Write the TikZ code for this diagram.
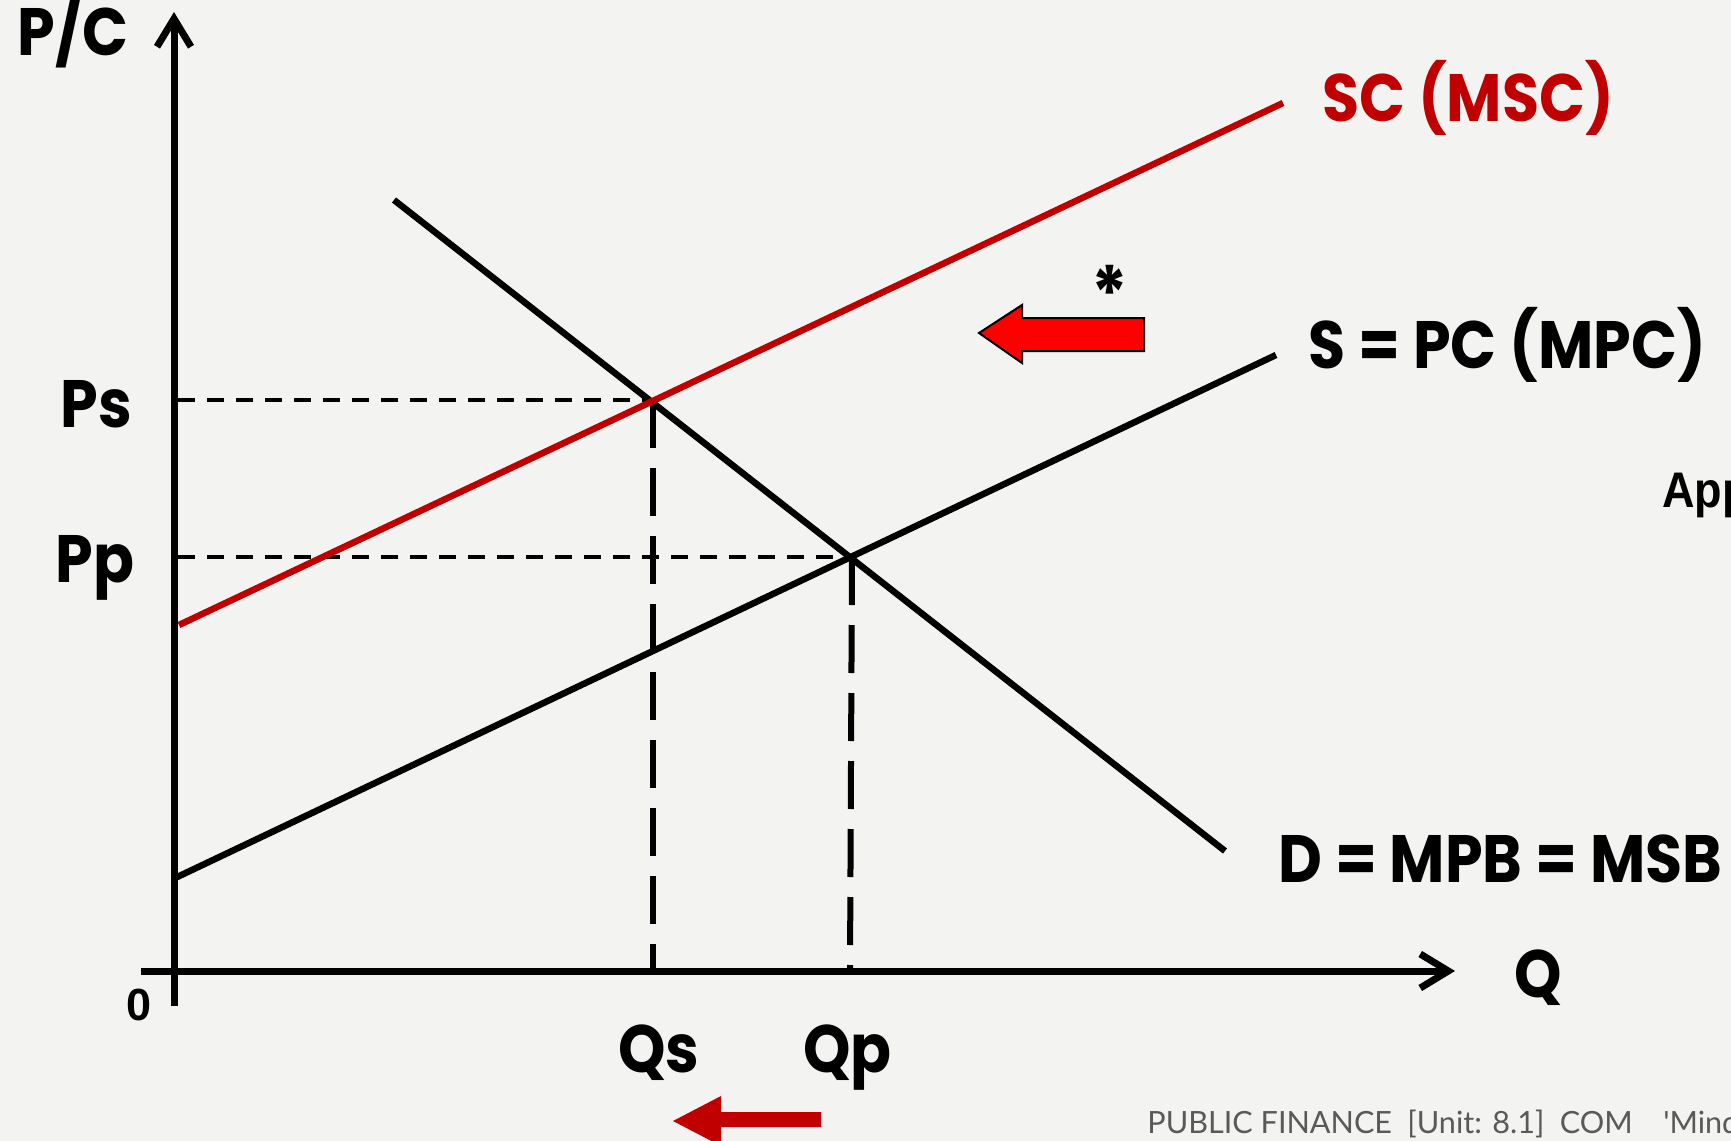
\documentclass[tikz,border=0pt]{standalone}
\usepackage{fontspec}
\usetikzlibrary{arrows.meta}
\newfontfamily\gfont{Poppins Bold}[FakeStretch=0.9]
\newfontfamily\afont{Liberation Sans}
\newfontfamily\anfont{Liberation Sans}[FakeStretch=0.9]
\newfontfamily\ffont{Lato}
\definecolor{bg}{HTML}{F3F3F1}
\definecolor{dred}{HTML}{C00000}
\definecolor{ftgray}{HTML}{595959}
\begin{document}
\begin{tikzpicture}[x=0.5pt,y=-0.5pt,
  curve/.style={line width=3.25pt},
  axisline/.style={line width=3.5pt,-{Straight Barb[length=14pt,width=17pt]}},
  thindash/.style={line width=2pt,dash pattern=on 8.5pt off 6pt},
  thickdash/.style={line width=3pt,dash pattern=on 24pt off 10pt},
  lbl/.style={font=\gfont\fontsize{33.5}{40}\selectfont,inner sep=0pt,anchor=base west}]
\fill[bg] (0,0) rectangle (1731,1141);
\useasboundingbox (0,0) rectangle (1731,1141);
% coordinates
\coordinate (yb) at (174,1006);
\coordinate (yt) at (174,12);
\coordinate (xl) at (141,971);
\coordinate (xr) at (1455,971);
\coordinate (Es) at (653,400);
\coordinate (Ep) at (852,557);
\coordinate (psL) at (178,400);
\coordinate (ppL) at (178,557);
\coordinate (qsB) at (653,971);
\coordinate (qpB) at (850,971);
\coordinate (sc1) at (179,625);
\coordinate (sc2) at (1283,103);
\coordinate (s1) at (173,879);
\coordinate (s2) at (1276,355);
\coordinate (d1) at (394,200);
\coordinate (d2) at (1225,851);
% dashed guides
\draw[thindash] (psL) -- (Es);
\draw[thindash] (ppL) -- (Ep);
\draw[thickdash] (Es) -- (qsB);
\draw[thickdash] (Ep) -- (qpB);
% axes
\draw[axisline] (yb) -- (yt);
\draw[axisline] (xl) -- (xr);
% curves
\draw[curve] (s1) -- (s2);
\draw[curve] (d1) -- (d2);
\draw[curve,dred] (sc1) -- (sc2);
% labels
\node[lbl] (pc) at (17,55) {P/C};
\node[lbl] (ps) at (60,427) {Ps};
\node[lbl] (pp) at (55,582) {Pp};
\node[lbl] (qs) at (618,1072) {Qs};
\node[lbl] (qp) at (803,1072) {Qp};
\node[lbl,anchor=base] (q) at (1538,997) {Q};
\node[lbl,dred] (scl) at (1322,121) {SC (MSC)};
\node[lbl] (sl) at (1308,368) {S = PC (MPC)};
\node[lbl] (dl) at (1278,882) {D = MPB = MSB};
\node[font=\afont\bfseries\fontsize{22.5}{27}\selectfont,inner sep=0pt,anchor=base] (zero) at (139,1020) {0};
\node[lbl,anchor=base,font=\gfont\fontsize{38}{40}\selectfont] (ast) at (1110,321) {*};
% shift arrows
\filldraw[fill=red,draw=black,line width=1pt] (979,333) -- (1022,305) -- (1022,318) -- (1144,318) -- (1144,351) -- (1022,351) -- (1022,363) -- cycle;
\fill[dred] (673,1121) -- (721,1096) -- (721,1112) -- (821,1112) -- (821,1127) -- (721,1127) -- (721,1146) -- cycle;
% clipped texts
\begin{scope}
\clip (0,0) rectangle (1731,1141);
\node[font=\anfont\bfseries\fontsize{25}{30}\selectfont,inner sep=0pt,anchor=base west] (app) at (1662,507) {App};
\node[font=\ffont\fontsize{15.3}{18}\selectfont,text=ftgray,inner sep=0pt,anchor=base west] (foot) at (1147,1133) {PUBLIC FINANCE\enspace[Unit: 8.1]\enspace COM\quad 'Mind};
\end{scope}
\end{tikzpicture}
\end{document}
